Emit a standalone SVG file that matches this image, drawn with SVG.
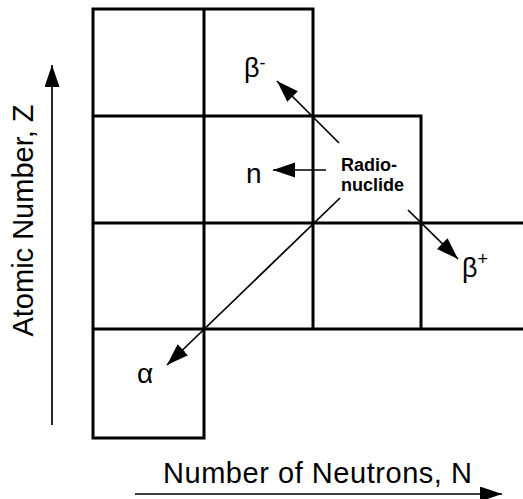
<svg xmlns="http://www.w3.org/2000/svg" width="523" height="499" viewBox="0 0 523 499">
<style>
.grid{fill:none;stroke:#000;stroke-width:3;stroke-linecap:square}
.arr{fill:none;stroke:#000;stroke-width:1.7}
.lbl{font-family:"Liberation Sans",Arial,sans-serif;fill:#000}
.bold{font-weight:bold;font-size:18px}
</style>
<defs>
<marker id="ah" markerUnits="userSpaceOnUse" markerWidth="24" markerHeight="16" refX="22" refY="7.5" orient="auto">
<path d="M0,0 L22,7.5 L0,15 z" fill="#000"/>
</marker>
</defs>
<rect width="523" height="499" fill="#fff"/>
<g id="grid">
<path class="grid" d="M93,9 H313 M93,116 H421 M93,223 H523 M93,329 H523 M93,438 H204 M93,9 V438 M204,9 V438 M313,9 V329 M421,116 V329"/>
</g>
<g id="connectors">
<line class="arr" x1="339" y1="143" x2="277" y2="81" marker-end="url(#ah)"/>
<line class="arr" x1="326" y1="170" x2="273" y2="170" marker-end="url(#ah)"/>
<line class="arr" x1="340" y1="198" x2="167" y2="365" marker-end="url(#ah)"/>
<line class="arr" x1="408" y1="210" x2="458" y2="259" marker-end="url(#ah)"/>
<line class="arr" x1="52" y1="425" x2="52" y2="65" marker-end="url(#ah)"/>
<line class="arr" x1="135" y1="494" x2="502" y2="494" marker-end="url(#ah)"/>
</g>
<g id="radionuclide">
<text class="lbl bold" x="341" y="171">Radio-</text>
<text class="lbl bold" x="341" y="191">nuclide</text>
</g>
<g id="beta-minus"><text class="lbl" x="244" y="77" font-size="27">β<tspan font-size="18" dy="-8">-</tspan></text></g>
<g id="neutron"><text class="lbl" x="246" y="183" font-size="28">n</text></g>
<g id="alpha"><text class="lbl" x="137" y="383" font-size="28">α</text></g>
<g id="beta-plus"><text class="lbl" x="462" y="277" font-size="27">β<tspan font-size="18" dy="-12">+</tspan></text></g>
<g id="z-axis"><text class="lbl" font-size="29" text-anchor="middle" transform="translate(33,220.5) rotate(-90)">Atomic Number, Z</text></g>
<g id="n-axis"><text class="lbl" font-size="29" text-anchor="middle" x="317.5" y="483" textLength="309">Number of Neutrons, N</text></g>
</svg>
